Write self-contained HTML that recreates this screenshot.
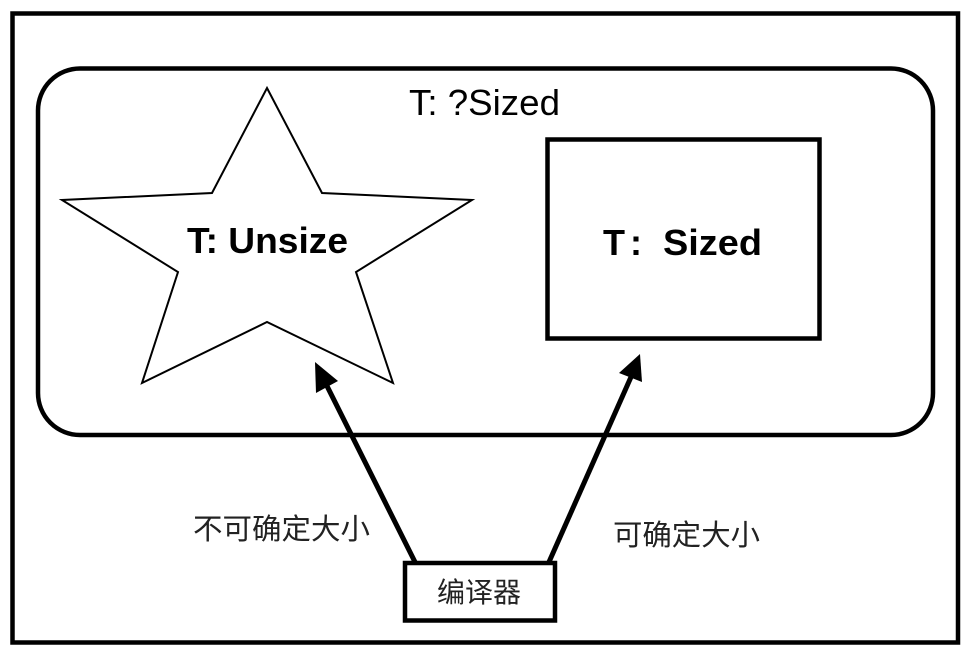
<!DOCTYPE html>
<html>
<head>
<meta charset="utf-8">
<style>
html,body{margin:0;padding:0;background:#fff;}
body{width:968px;height:652px;overflow:hidden;}
svg{display:block;}
</style>
</head>
<body>
<svg width="968" height="652" viewBox="0 0 968 652" xmlns="http://www.w3.org/2000/svg">
  <rect x="0" y="0" width="968" height="652" fill="#fff"/>
  <!-- outer frame -->
  <rect x="12.5" y="13.5" width="945.5" height="629" fill="none" stroke="#000" stroke-width="4.5"/>
  <!-- rounded container -->
  <rect x="38" y="68.5" width="895" height="366.5" rx="42" ry="42" fill="none" stroke="#000" stroke-width="4.5"/>
  <text x="409" y="115" font-family="Liberation Sans, Arial, sans-serif" font-size="36" fill="#000" textLength="151" lengthAdjust="spacingAndGlyphs">T: ?Sized</text>

  <!-- star -->
  <polygon points="267,88 322,193 472,200 356,272 393,383 267,322 142,383 178,272 62,200 212,193" fill="#fff" stroke="#000" stroke-width="2" stroke-linejoin="miter"/>
  <text x="187" y="253" font-family="Liberation Sans, Arial, sans-serif" font-size="36" font-weight="bold" fill="#000" textLength="161" lengthAdjust="spacingAndGlyphs">T: Unsize</text>

  <!-- sized rect -->
  <rect x="547.5" y="139.5" width="272" height="199" fill="#fff" stroke="#000" stroke-width="4.5"/>
  <text x="603" y="255" font-family="Liberation Sans, Arial, sans-serif" font-size="36" font-weight="bold" fill="#000">T</text>
  <text x="630" y="255" font-family="Liberation Sans, Arial, sans-serif" font-size="36" font-weight="bold" fill="#000">:</text>
  <text x="663" y="255" font-family="Liberation Sans, Arial, sans-serif" font-size="36" font-weight="bold" fill="#000" textLength="99" lengthAdjust="spacingAndGlyphs">Sized</text>

  <!-- arrows -->
  <line x1="415" y1="562" x2="327" y2="386" stroke="#000" stroke-width="5"/>
  <polygon points="315,362 338,381 316,393" fill="#000"/>
  <line x1="549" y1="562" x2="631" y2="377" stroke="#000" stroke-width="5"/>
  <polygon points="640,354 619,373 642,382" fill="#000"/>

  <!-- compiler box -->
  <rect x="405" y="563" width="150" height="57.5" fill="#fff" stroke="#000" stroke-width="4.5"/>
  <text x="437" y="602" font-family="Liberation Sans, 'Noto Sans CJK SC', 'WenQuanYi Zen Hei', sans-serif" font-size="28" fill="#222" textLength="84" lengthAdjust="spacingAndGlyphs">编译器</text>

  <!-- labels -->
  <text x="193" y="539" font-family="Liberation Sans, 'Noto Sans CJK SC', 'WenQuanYi Zen Hei', sans-serif" font-size="29" fill="#222" textLength="177" lengthAdjust="spacingAndGlyphs">不可确定大小</text>
  <text x="613" y="545" font-family="Liberation Sans, 'Noto Sans CJK SC', 'WenQuanYi Zen Hei', sans-serif" font-size="29" fill="#222" textLength="147" lengthAdjust="spacingAndGlyphs">可确定大小</text>
</svg>
</body>
</html>
